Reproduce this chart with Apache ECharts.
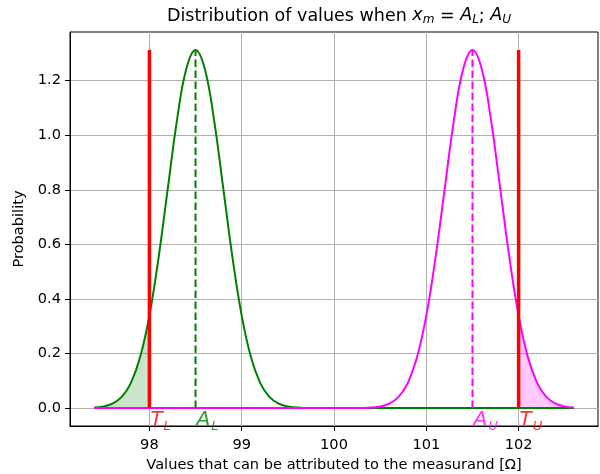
<!DOCTYPE html>
<html>
<head>
<meta charset="utf-8">
<script src="https://cdn.jsdelivr.net/npm/echarts@6/dist/echarts.min.js"></script>
<style>
  html, body { margin: 0; padding: 0; background: #fff; }
  #main { width: 600px; height: 474px; }
</style>
</head>
<body>
<div id="main"></div>
<script>
// x positions where both curves were sampled
const xs = [97.4, 97.5, 97.6, 97.7, 97.8, 97.9, 98.0, 98.1, 98.2, 98.3, 98.4, 98.5, 98.6, 98.7,
  98.8, 98.9, 99.0, 99.1, 99.2, 99.3, 99.4, 99.5, 99.6, 99.7, 99.8, 99.9, 100.0, 100.1, 100.2,
  100.3, 100.4, 100.5, 100.6, 100.7, 100.8, 100.9, 101.0, 101.1, 101.2, 101.3, 101.4, 101.5,
  101.6, 101.7, 101.8, 101.9, 102.0, 102.1, 102.2, 102.3, 102.4, 102.5, 102.6]
// distribution around A_L (green)
const lowerPdf = [0.0019, 0.0059, 0.0164, 0.0411, 0.0925, 0.187, 0.339, 0.552, 0.806, 1.057,
  1.243, 1.312, 1.243, 1.057, 0.806, 0.552, 0.339, 0.187, 0.0925, 0.0411, 0.0164, 0.0059,
  0.0019, 0.0005, 0.0001, 0, 0, 0, 0, 0, 0, 0, 0, 0, 0, 0, 0, 0, 0, 0, 0, 0, 0, 0, 0, 0, 0,
  0, 0, 0, 0, 0, 0]
// distribution around A_U (magenta)
const upperPdf = [0, 0, 0, 0, 0, 0, 0, 0, 0, 0, 0, 0, 0, 0, 0, 0, 0, 0, 0, 0, 0, 0, 0, 0, 0, 0,
  0, 0, 0.0001, 0.0005, 0.0019, 0.0059, 0.0164, 0.0411, 0.0925, 0.187, 0.339, 0.552, 0.806,
  1.057, 1.243, 1.312, 1.243, 1.057, 0.806, 0.552, 0.339, 0.187, 0.0925, 0.0411, 0.0164,
  0.0059, 0.0019]
const tolerances = [98, 102]     // T_L, T_U
const acceptance = [98.5, 101.5] // A_L, A_U
const peak = 1.312
const xTicks = [98, 99, 100, 101, 102]
const yTicks = [0, 0.2, 0.4, 0.6, 0.8, 1.0, 1.2]

const green = 'green'
const magenta = '#ff00ff'
const red = '#ff0000'
const font = 'DejaVu Sans'

const pts = (ys) => xs.map((x, i) => [x, ys[i]])
const greenPts = pts(lowerPdf)
const magentaPts = pts(upperPdf)
const greenFill = greenPts.filter(p => p[0] <= tolerances[0] + 1e-9)
const magentaFill = magentaPts.filter(p => p[0] >= tolerances[1] - 1e-9)

function labelRich (color) {
  return {
    m: { fontFamily: font, fontStyle: 'italic', fontSize: 20, lineHeight: 23, verticalAlign: 'top', color: color },
    s: { fontFamily: font, fontStyle: 'italic', fontSize: 13, lineHeight: 13, padding: [10, 0, 0, 1], verticalAlign: 'bottom', color: color }
  }
}

function textSeries (x, main, s, color) {
  return {
    type: 'scatter',
    symbolSize: 0,
    silent: true,
    z: 10,
    data: [[x, 0]],
    label: {
      show: true,
      position: [1, 2],
      align: 'left',
      verticalAlign: 'top',
      formatter: '{m|' + main + '}{s|' + s + '}',
      rich: labelRich(color)
    }
  }
}

function vline (x, color, width, dash) {
  return {
    type: 'line',
    data: [[x, 0], [x, peak]],
    showSymbol: false,
    silent: true,
    lineStyle: { color: color, width: width, type: dash || 'solid' },
    z: 4
  }
}

var myChart = echarts.init(document.getElementById('main'))

var option = {
  animation: false,
  title: {
    text: 'Distribution of values when {i|x}{s|m} = {i|A}{s|L}; {i|A}{s|U}',
    left: 334,
    textAlign: 'center',
    top: 1,
    textStyle: {
      fontFamily: font,
      fontSize: 17.5,
      fontWeight: 'normal',
      color: '#000',
      rich: {
        i: { fontFamily: font, fontStyle: 'italic', fontSize: 17.5, lineHeight: 20, verticalAlign: 'top', color: '#000' },
        s: { fontFamily: font, fontStyle: 'italic', fontSize: 12, lineHeight: 12, padding: [9, 0, 0, 0], verticalAlign: 'bottom', color: '#000' }
      }
    }
  },
  grid: {
    left: 70,
    right: 2,
    top: 32,
    bottom: 48,
    show: true,
    borderColor: '#000',
    borderWidth: 1,
    containLabel: false,
    outerBoundsMode: 'none'
  },
  xAxis: {
    type: 'value',
    min: 97.14,
    max: 102.86,
    name: 'Values that can be attributed to the measurand [Ω]',
    nameLocation: 'middle',
    nameGap: 32,
    nameTextStyle: { fontFamily: font, fontSize: 14.6, color: '#000' },
    axisLine: { show: true, onZero: false, lineStyle: { color: '#000', width: 1 } },
    axisTick: { show: true, length: 5, customValues: xTicks, lineStyle: { color: '#000' } },
    axisLabel: { customValues: xTicks, fontFamily: font, fontSize: 14.6, color: '#000', margin: 12 },
    splitLine: { show: true, lineStyle: { color: '#b0b0b0', width: 1 } }
  },
  yAxis: {
    type: 'value',
    min: -0.0656,
    max: 1.378,
    name: 'Probability',
    nameLocation: 'middle',
    nameGap: 40,
    nameTextStyle: { fontFamily: font, fontSize: 14.6, color: '#000' },
    axisLine: { show: true, onZero: false, lineStyle: { color: '#000', width: 1 } },
    axisTick: { show: true, length: 5, customValues: yTicks, lineStyle: { color: '#000' } },
    axisLabel: {
      customValues: yTicks,
      fontFamily: font,
      fontSize: 14.6,
      color: '#000',
      margin: 9,
      formatter: v => v.toFixed(1)
    },
    splitLine: { show: true, lineStyle: { color: '#b0b0b0', width: 1 } }
  },
  series: [
    {
      type: 'line',
      data: greenFill,
      showSymbol: false,
      smooth: 0.4,
      silent: true,
      lineStyle: { width: 0 },
      areaStyle: { color: 'rgba(0,128,0,0.3)', origin: 'auto' },
      z: 1
    },
    {
      type: 'line',
      data: magentaFill,
      showSymbol: false,
      smooth: 0.4,
      silent: true,
      lineStyle: { width: 0 },
      areaStyle: { color: 'rgba(255,0,255,0.3)', origin: 'auto' },
      z: 1
    },
    {
      type: 'line',
      data: greenPts,
      showSymbol: false,
      smooth: 0.4,
      lineStyle: { color: green, width: 2 },
      z: 2
    },
    {
      type: 'line',
      data: magentaPts,
      showSymbol: false,
      smooth: 0.4,
      lineStyle: { color: magenta, width: 2 },
      z: 3
    },
    vline(tolerances[0], red, 3.5),
    vline(tolerances[1], red, 3.5),
    vline(acceptance[0], green, 2, [7.7, 3.3]),
    vline(acceptance[1], magenta, 2, [7.7, 3.3]),
    textSeries(tolerances[0], 'T', 'L', red),
    textSeries(acceptance[0], 'A', 'L', green),
    textSeries(acceptance[1], 'A', 'U', magenta),
    textSeries(tolerances[1], 'T', 'U', red)
  ]
}

myChart.setOption(option)
</script>
</body>
</html>
